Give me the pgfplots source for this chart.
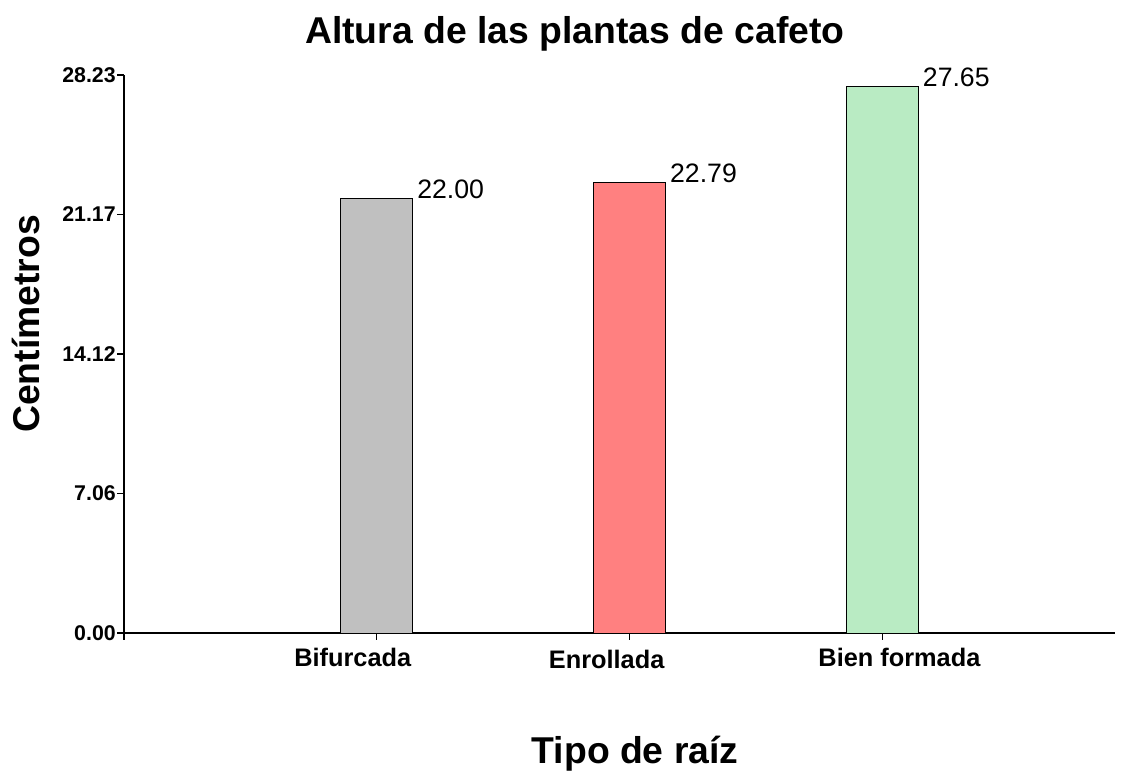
\documentclass[border=0pt]{standalone}
\usepackage{pgfplots}
\pgfplotsset{compat=1.18}
\usepackage{fontspec}
\setmainfont{Liberation Sans}
\definecolor{bgray}{RGB}{192,192,192}
\definecolor{bred}{RGB}{255,128,128}
\definecolor{bgreen}{RGB}{185,235,195}
\begin{document}
\begin{tikzpicture}
\path[use as bounding box] (-93pt,-106.5pt) rectangle (751.5pt,474.75pt);
\begin{axis}[
  at={(0,0)}, anchor=south west,
  scale only axis,
  width=743.25pt, height=418.5pt,
  xmin=0, xmax=3.92,
  ymin=0, ymax=28.23,
  axis x line*=bottom, axis y line*=left,
  axis line style={line width=1pt},
  xtick={0,1,2,3},
  xticklabels={,\hspace*{-36pt}Bifurcada,\hspace*{-34.5pt}\raisebox{-1.5pt}{Enrollada},\hspace*{25.5pt}Bien formada},
  ytick={0,7.06,14.12,21.17,28.23},
  yticklabels={0.00,7.06,14.12,21.17,28.23},
  tick align=outside,
  major tick length=5pt,
  tick style={line width=1pt, black},
  yticklabel style={font=\fontsize{16}{18}\selectfont\bfseries, inner sep=1pt},
  xticklabel style={font=\fontsize{19}{22}\selectfont\bfseries, anchor=base, yshift=-20pt},
  every axis title shift=0pt,
  title={Altura de las plantas de cafeto},
  title style={font=\fontsize{28}{32}\selectfont\bfseries, at={(0.455,1.057)}, anchor=base},
  xlabel={Tipo de raíz},
  xlabel style={font=\fontsize{28}{32}\selectfont\bfseries, at={(0.5157,-0.233)}, anchor=base},
  ylabel={Centímetros},
  ylabel style={font=\fontsize{28}{32}\selectfont\bfseries, at={(-0.0853,0.5538)}, anchor=base, rotate=0},
  ybar, bar width=0.285, bar shift=0pt,
  nodes near coords={\pgfmathprintnumber[fixed,fixed zerofill,precision=2,assume math mode=true]{\pgfplotspointmeta}},
  every node near coord/.append style={font=\fontsize{20}{24}\selectfont, anchor=base west, inner sep=0pt, xshift=30pt, yshift=0pt},
  clip=false,
]
\addplot[fill=bgray, draw=black, line width=0.75pt] coordinates {(1,22.00)};
\addplot[fill=bred, draw=black, line width=0.75pt] coordinates {(2,22.79)};
\addplot[fill=bgreen, draw=black, line width=0.75pt] coordinates {(3,27.65)};
\end{axis}
\end{tikzpicture}
\end{document}
